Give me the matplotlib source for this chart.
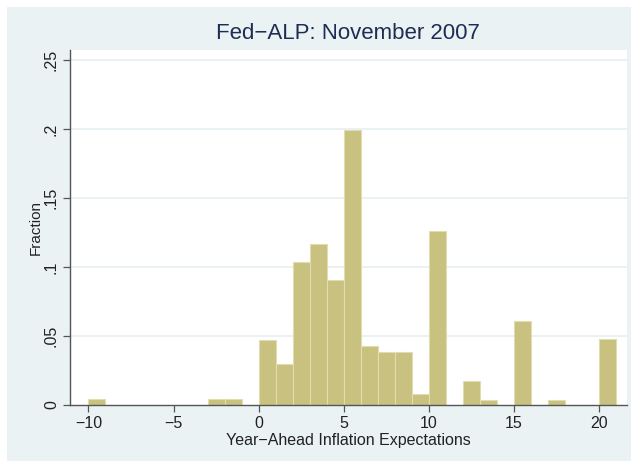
import numpy as np
import matplotlib.pyplot as plt
from matplotlib.patches import Rectangle

plt.rcParams['font.family'] = ['Liberation Sans', 'DejaVu Sans']

# histogram bins (left edges, width 1) and fractions
bins = [-10, -3, -2, 0, 1, 2, 3, 4, 5, 6, 7, 8, 9, 10, 12, 13, 15, 17, 20]
frac = [0.0043, 0.0043, 0.0043, 0.0473, 0.0297, 0.1039, 0.1169, 0.0903, 0.1993,
        0.0425, 0.0387, 0.0387, 0.0083, 0.1260, 0.0171, 0.0039, 0.0606, 0.0039, 0.0478]
xticks = [-10, -5, 0, 5, 10, 15, 20]
yticks = [0, 0.05, 0.1, 0.15, 0.2, 0.25]
ylabels = ['0', '.05', '.1', '.15', '.2', '.25']

bg = '#EAF2F3'
fig = plt.figure(figsize=(6.31, 4.61), dpi=100, facecolor='white')
fig.patches.append(Rectangle((7/631, 0), 1-7/631, 1-7/461, transform=fig.transFigure,
                             facecolor=bg, edgecolor='none', zorder=-10))

ax = fig.add_axes([70/631, 1-405/461, 556.5/631, 355/461])
ax.set_facecolor('white')
for y in yticks[1:]:
    ax.axhline(y, color='#E6EFF2', linewidth=1.2, zorder=0)
ax.bar(bins, frac, width=1, align='edge', color='#C9C17F', edgecolor='#E2DDB0',
       linewidth=0.8, zorder=2)

ax.set_xlim(-11.08, 21.6)
ax.set_ylim(0, 0.2572)
ax.set_xticks(xticks)
ax.set_yticks(yticks)
ax.set_yticklabels(ylabels, rotation=90, va='center')
ax.tick_params(axis='both', direction='out', length=5, width=0.9, color='#555555',
               labelsize=11.5, labelcolor='#222222')
ax.tick_params(axis='x', pad=3)
ax.tick_params(axis='y', pad=3)
for s in ['top', 'right']:
    ax.spines[s].set_visible(False)
for s in ['left', 'bottom']:
    ax.spines[s].set_color('#555555')
    ax.spines[s].set_linewidth(1.0)

ax.set_xlabel('Year\u2212Ahead Inflation Expectations', fontsize=11.5, color='#222222', labelpad=1)
ax.set_ylabel('Fraction', fontsize=11, color='#222222', labelpad=1)
fig.text(348/631, 1-33/461, 'Fed\u2212ALP: November 2007', fontsize=16, color='#1E2D53',
         ha='center', va='center')

plt.savefig('out.png', dpi=100, facecolor=fig.get_facecolor())
